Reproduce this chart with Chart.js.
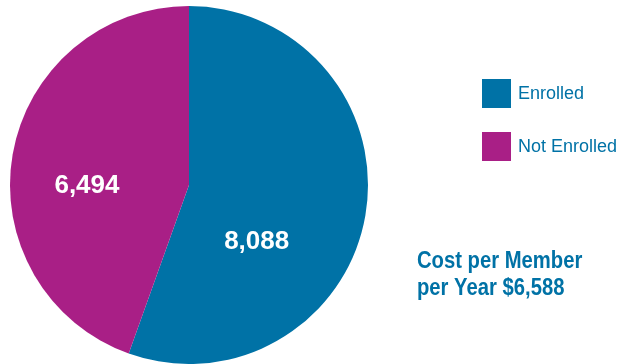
<!DOCTYPE html>
<html>
<head>
<meta charset="utf-8">
<script src="https://cdn.jsdelivr.net/npm/chart.js@4.4.0/dist/chart.umd.min.js"></script>
<style>
  html, body { margin: 0; padding: 0; background: #fff; }
  #wrap { position: relative; width: 619px; height: 364px; }
</style>
</head>
<body>
<div id="wrap"><canvas id="pie" width="619" height="364"></canvas></div>
<script>
// ==================== DATA ====================
const categories = ["Enrolled", "Not Enrolled"];
const members = [8088, 6494];
const sliceColors = ["#0072A6", "#A91F86"];
const costLines = ["Cost per Member", "per Year $6,588"];

// label placement inside slices: [angle from top, clockwise (deg), fraction of radius]
const labelSpots = [[129.5, 0.49], [270, 0.57]];

const fmt = v => v.toLocaleString("en-US");

// ==================== PLUGIN: slice labels, legend, note ====================
const extras = {
  id: "extras",
  afterDatasetsDraw(chart) {
    const ctx = chart.ctx;
    const arcs = chart.getDatasetMeta(0).data;
    ctx.save();
    ctx.fillStyle = "#fff";
    ctx.font = "bold 26px 'Liberation Sans', Arial, sans-serif";
    ctx.textAlign = "center";
    ctx.textBaseline = "middle";
    arcs.forEach((arc, i) => {
      const a = labelSpots[i][0] * Math.PI / 180;
      const r = arc.outerRadius * labelSpots[i][1];
      ctx.fillText(fmt(members[i]), arc.x + Math.sin(a) * r, arc.y - Math.cos(a) * r + 1);
    });

    // legend
    ctx.textAlign = "left";
    ctx.font = "18px 'Liberation Sans', Arial, sans-serif";
    categories.forEach((c, i) => {
      const y = 79 + i * 53;
      ctx.fillStyle = sliceColors[i];
      ctx.fillRect(482, y, 29, 29);
      ctx.fillStyle = "#0072A6";
      ctx.fillText(c, 518, y + 15);
    });

    // cost note (condensed look)
    ctx.font = "bold 23px 'Liberation Sans', Arial, sans-serif";
    ctx.textBaseline = "alphabetic";
    ctx.fillStyle = "#0072A6";
    ctx.translate(417, 0);
    ctx.scale(0.88, 1);
    costLines.forEach((t, i) => ctx.fillText(t, 0, 268 + i * 27));
    ctx.restore();
  }
};

// ==================== CHART ====================
new Chart(document.getElementById("pie"), {
  type: "pie",
  data: {
    labels: categories,
    datasets: [{
      data: members,
      backgroundColor: sliceColors,
      borderWidth: 0
    }]
  },
  options: {
    responsive: false,
    animation: false,
    layout: { padding: { left: 10, top: 6, right: 251, bottom: 0 } },
    plugins: { legend: { display: false }, tooltip: { enabled: false } }
  },
  plugins: [extras]
});
</script>
</body>
</html>
